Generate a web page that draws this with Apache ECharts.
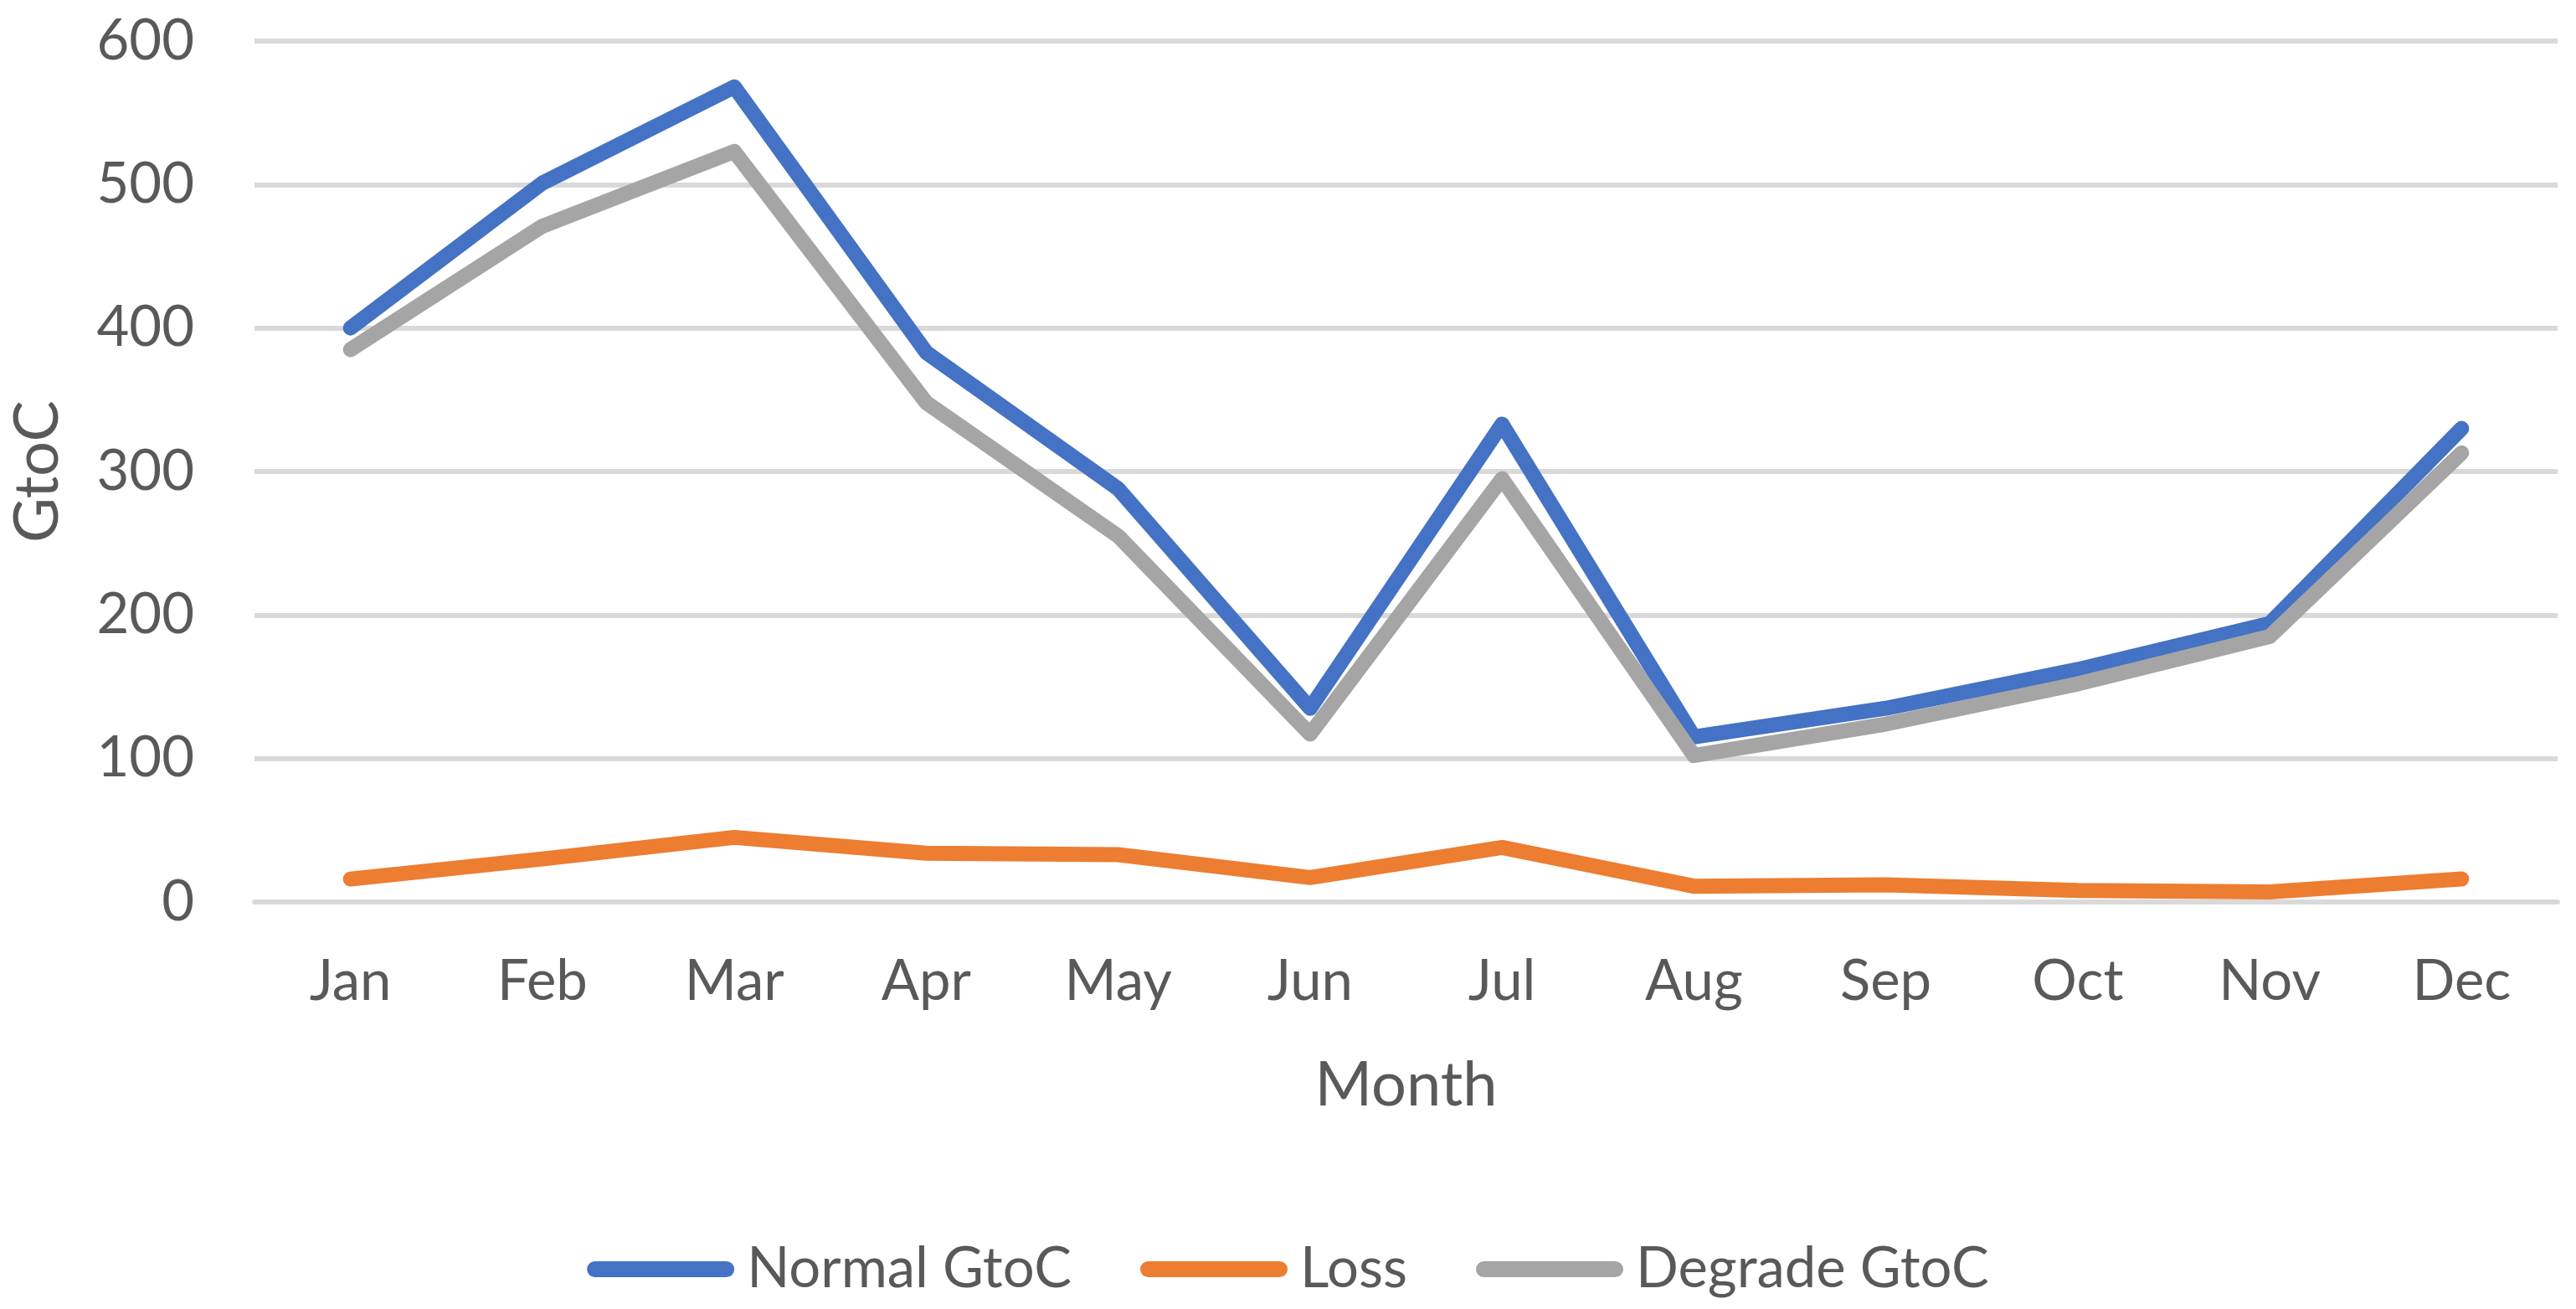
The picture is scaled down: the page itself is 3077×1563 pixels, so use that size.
<!DOCTYPE html>
<html>
<head>
<meta charset="utf-8">
<script src="https://cdn.jsdelivr.net/npm/echarts@6/dist/echarts.min.js"></script>
<style>
html,body{margin:0;padding:0;background:#fff;}
#chart{width:3077px;height:1563px;}
</style>
</head>
<body>
<div id="chart"></div>
<script>
const months = ['Jan','Feb','Mar','Apr','May','Jun','Jul','Aug','Sep','Oct','Nov','Dec'];
const normalGtoC = [400, 501, 568, 383, 288, 135, 333, 115, 135, 162, 194, 330];
const loss = [16, 30, 45, 34, 33, 17, 38, 11, 12, 8, 7, 16];
const degradeGtoC = [385, 471, 523, 348, 255, 117, 295, 102, 124, 152, 185, 313];
const yTicks = {min: 0, max: 600, interval: 100};

const FONT = 'Lato';
const TXT = '#595959';
const capsule = 'path://M9.5,0 L166.5,0 A9.5,9.5 0 0 1 166.5,19 L9.5,19 A9.5,9.5 0 0 1 9.5,0 Z';

const chart = echarts.init(document.getElementById('chart'), null, {renderer: 'canvas'});
const lineStyle = (c) => ({color: c, width: 18, cap: 'round', join: 'round'});
chart.setOption({
  animation: false,
  backgroundColor: '#ffffff',
  textStyle: {fontFamily: FONT, color: TXT},
  grid: {left: 304, right: 22, top: 49, bottom: 486, containLabel: false},
  legend: {
    left: 'center',
    top: 1482,
    padding: 0,
    itemGap: 82,
    itemWidth: 176,
    itemHeight: 19,
    icon: capsule,
    itemStyle: {borderWidth: 0},
    textStyle: {fontFamily: FONT, fontSize: 67, color: TXT, padding: [0, 0, 0, 10]},
    data: ['Normal GtoC', 'Loss', 'Degrade GtoC']
  },
  xAxis: {
    type: 'category',
    data: months,
    boundaryGap: true,
    name: 'Month',
    nameLocation: 'middle',
    nameGap: 182,
    nameTextStyle: {fontFamily: FONT, fontSize: 74, color: TXT},
    axisLine: {show: true, lineStyle: {color: '#d9d9d9', width: 6}},
    axisTick: {show: false},
    axisLabel: {fontFamily: FONT, fontSize: 67, color: TXT, margin: 62}
  },
  yAxis: {
    type: 'value',
    min: yTicks.min,
    max: yTicks.max,
    interval: yTicks.interval,
    name: 'GtoC',
    nameLocation: 'middle',
    nameGap: 222,
    nameRotate: 90,
    nameTextStyle: {fontFamily: FONT, fontSize: 74, color: TXT},
    axisLine: {show: false},
    axisTick: {show: false},
    axisLabel: {fontFamily: FONT, fontSize: 67, color: TXT, margin: 72},
    splitLine: {show: true, lineStyle: {color: '#d9d9d9', width: 6}}
  },
  series: [
    {name: 'Normal GtoC', type: 'line', data: normalGtoC, showSymbol: false, symbol: 'none',
     itemStyle: {color: '#4472C4'}, lineStyle: lineStyle('#4472C4')},
    {name: 'Loss', type: 'line', data: loss, showSymbol: false, symbol: 'none',
     itemStyle: {color: '#ED7D31'}, lineStyle: lineStyle('#ED7D31')},
    {name: 'Degrade GtoC', type: 'line', data: degradeGtoC, showSymbol: false, symbol: 'none',
     itemStyle: {color: '#A5A5A5'}, lineStyle: lineStyle('#A5A5A5')}
  ]
});
</script>
</body>
</html>
